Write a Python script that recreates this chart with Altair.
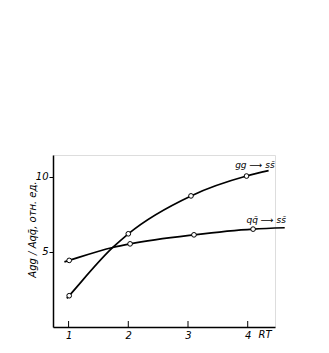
import altair as alt
import pandas as pd

# gg -> s sbar curve (read points along the curve) and its markers
gg_curve_x = [0.97, 1.01, 1.74, 2.0, 3.05, 3.98, 4.35]
gg_curve_y = [1.9, 2.08, 5.29, 6.2, 8.72, 10.04, 10.4]
gg_pts_x = [1.01, 2.0, 3.05, 3.98]
gg_pts_y = [2.08, 6.2, 8.72, 10.04]

# qq̄ -> s sbar curve and its markers
qq_curve_x = [0.93, 1.01, 1.74, 2.03, 3.1, 4.09, 4.62]
qq_curve_y = [4.33, 4.43, 5.29, 5.53, 6.13, 6.51, 6.6]
qq_pts_x = [1.01, 2.03, 3.1, 4.09]
qq_pts_y = [4.43, 5.53, 6.13, 6.51]

x_ticks = [1, 2, 3, 4]
y_ticks = [5, 10]

W, H = 222, 172
FONT = "DejaVu Sans"

xs = alt.Scale(domain=[0.739, 4.457], nice=False, zero=False)
ys = alt.Scale(domain=[0, 11.44], nice=False, zero=False)

curves = pd.DataFrame({
    "x": gg_curve_x + qq_curve_x,
    "y": gg_curve_y + qq_curve_y,
    "s": ["gg"] * len(gg_curve_x) + ["qq"] * len(qq_curve_x),
})
pts = pd.DataFrame({
    "x": gg_pts_x + qq_pts_x,
    "y": gg_pts_y + qq_pts_y,
})

xaxis = alt.Axis(values=x_ticks, format="d", ticks=False, title=None,
                 domainColor="black", domainWidth=1.5, labelFont=FONT,
                 labelFontStyle="italic", labelFontSize=10, labelColor="black",
                 labelPadding=3, grid=False)
yaxis = alt.Axis(values=y_ticks, format="d", tickSize=4, tickColor="black",
                 title="Agg / Aqq̄, отн. ед.",
                 domainColor="black", domainWidth=1.5, labelFont=FONT,
                 labelFontStyle="italic", labelFontSize=10, labelColor="black",
                 labelPadding=1, grid=False, titleFont=FONT, titleFontSize=10,
                 titleFontWeight="normal", titleFontStyle="italic", titleColor="black",
                 titleX=-21, titleY=74, titleAngle=-90, titleAlign="center",
                 titleBaseline="middle")

lines = alt.Chart(curves).mark_line(interpolate="monotone", color="black",
                                    strokeWidth=1.7).encode(
    x=alt.X("x:Q", scale=xs, axis=xaxis),
    y=alt.Y("y:Q", scale=ys, axis=yaxis),
    detail="s:N",
)

points = alt.Chart(pts).mark_point(shape="circle", filled=True, fill="white",
                                   stroke="black", strokeWidth=1, size=22,
                                   opacity=1).encode(
    x=alt.X("x:Q", scale=xs),
    y=alt.Y("y:Q", scale=ys),
)

ticks = alt.Chart(pd.DataFrame({"t": x_ticks})).mark_rule(color="black",
                                                          strokeWidth=1).encode(
    x=alt.X("t:Q", scale=xs),
    y=alt.value(H),
    y2=alt.value(H - 6),
)

labels = pd.DataFrame({
    "x": [4.12, 4.31],
    "y": [10.75, 7.12],
    "t": ["gg ⟶ ss̄", "qq̄ ⟶ ss̄"],
})
lab = alt.Chart(labels).mark_text(font=FONT, fontStyle="italic", fontSize=9,
                                  color="black", align="center",
                                  baseline="middle").encode(
    x=alt.X("x:Q", scale=xs),
    y=alt.Y("y:Q", scale=ys),
    text="t:N",
)

rt = alt.Chart(pd.DataFrame({"x": [4.29], "t": ["RT"]})).mark_text(
    font=FONT, fontStyle="italic", fontSize=10, color="black",
    align="center", baseline="middle").encode(
    x=alt.X("x:Q", scale=xs),
    y=alt.value(H + 8),
    text="t:N",
)

chart = alt.layer(lines, ticks, points, lab, rt).properties(
    width=W, height=H,
    autosize=alt.AutoSizeParams(type="none"),
    padding={"left": 53, "top": 155, "right": 54, "bottom": 26},
).configure_view(stroke=None).configure(background="white")

chart.save("out.html", embed_options={"renderer": "svg", "actions": False})
